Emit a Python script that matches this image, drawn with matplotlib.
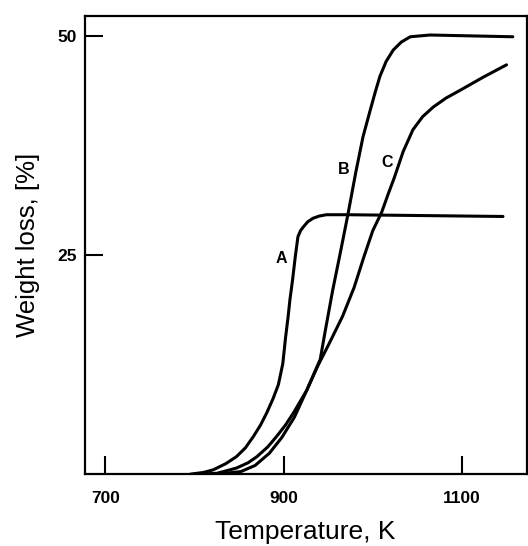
import matplotlib.pyplot as plt

# curve A
temp_a = [795, 810, 821, 835, 847, 857, 866, 874, 881, 888, 894, 899, 902, 905, 907, 910, 913, 916, 919, 922, 927, 933, 940, 948, 971, 1146]
loss_a = [0.0, 0.2, 0.5, 1.2, 2.0, 3.0, 4.3, 5.6, 7.0, 8.6, 10.2, 12.6, 15.5, 18.0, 19.9, 22.2, 24.8, 27.1, 27.8, 28.2, 28.8, 29.2, 29.45, 29.6, 29.6, 29.4]
# curve B
temp_b = [800, 825, 847, 860, 870, 882, 892, 902, 911, 926, 941, 946, 955, 964, 972, 981, 989, 997, 1003, 1008, 1015, 1023, 1032, 1042, 1064, 1157]
loss_b = [0.0, 0.1, 0.7, 1.3, 2.0, 3.1, 4.3, 5.6, 7.0, 9.6, 13.1, 16.0, 21.0, 25.5, 29.6, 34.5, 38.5, 41.5, 43.7, 45.4, 47.1, 48.4, 49.3, 49.9, 50.1, 49.9]
# curve C
temp_c = [825, 852, 868, 884, 898, 912, 926, 938, 951, 966, 979, 990, 1000, 1010, 1017, 1024, 1034, 1045, 1056, 1068, 1082, 1098, 1124, 1150]
loss_c = [0.0, 0.3, 1.0, 2.4, 4.2, 6.5, 9.6, 12.3, 14.9, 18.0, 21.3, 24.8, 27.8, 29.9, 31.9, 33.8, 36.8, 39.3, 40.8, 41.9, 42.9, 43.8, 45.3, 46.7]

curve_labels = ['A', 'B', 'C']
label_x = [897, 967, 1016]
label_y = [24.6, 34.8, 35.6]

xticks = [700, 900, 1100]
yticks = [25, 50]

fig = plt.figure(figsize=(5.28, 5.46), dpi=100)
ax = fig.add_axes([0.1606, 0.1315, 0.8366, 0.8397])

for t, w in [(temp_a, loss_a), (temp_b, loss_b), (temp_c, loss_c)]:
    ax.plot(t, w, color='black', lw=2.2, solid_capstyle='round', solid_joinstyle='round')

for s, x, y in zip(curve_labels, label_x, label_y):
    ax.text(x, y, s, ha='center', va='center', fontsize=11.5, fontweight='bold',
            family='Liberation Sans')

ax.set_xlim(676.9, 1172.4)
ax.set_ylim(0, 52.3)
ax.set_xticks(xticks)
ax.set_yticks(yticks)
ax.tick_params(direction='in', length=13, width=1.5, labelsize=12.5)
ax.tick_params(axis='y', pad=6)
ax.tick_params(axis='x', pad=12)
for lab in ax.get_xticklabels() + ax.get_yticklabels():
    lab.set_fontweight('bold')
    lab.set_family('Liberation Sans')
for sp in ax.spines.values():
    sp.set_linewidth(1.6)

ax.set_xlabel('Temperature, K', fontsize=19, family='Liberation Sans', labelpad=10)
ax.set_ylabel('Weight loss, [%]', fontsize=18.5, family='Liberation Sans', labelpad=12)

fig.savefig('out.png', dpi=100)
